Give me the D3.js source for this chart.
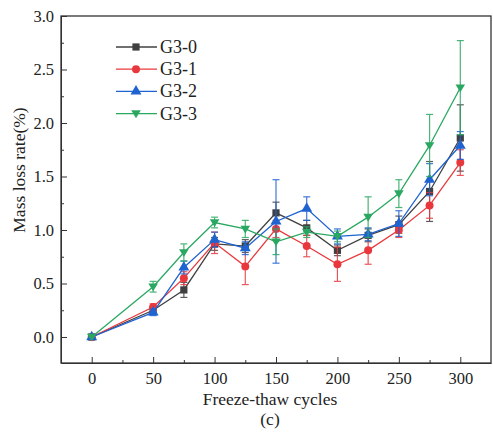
<!DOCTYPE html>
<html>
<head>
<meta charset="utf-8">
<script src="https://cdn.jsdelivr.net/npm/d3@7"></script>
<style>
    body { margin: 0; background: #fff; }
    text { font-family: "Liberation Serif", "Times New Roman", serif; fill: #222; }
</style>
</head>
<body>
<div id="chart"></div>
<script>
// Freeze-thaw cycles
const cycles = [0, 50, 75, 100, 125, 150, 175, 200, 225, 250, 275, 300];

// mass loss rate (%) per group
const g30 = [0, 0.25, 0.44, 0.87, 0.85, 1.16, 1.02, 0.81, 0.95, 1.05, 1.36, 1.86];
const g31 = [0, 0.28, 0.55, 0.88, 0.66, 1.01, 0.85, 0.68, 0.81, 1.00, 1.23, 1.63];
const g32 = [0, 0.23, 0.65, 0.91, 0.83, 1.08, 1.20, 0.94, 0.96, 1.06, 1.47, 1.79];
const g33 = [0, 0.47, 0.79, 1.07, 1.01, 0.89, 0.98, 0.94, 1.12, 1.34, 1.79, 2.33];

// error bars (+/-)
const e30 = [0, 0.03, 0.07, 0.06, 0.06, 0.10, 0.07, 0.05, 0.06, 0.08, 0.28, 0.31];
const e31 = [0, 0.03, 0.06, 0.10, 0.17, 0.08, 0.10, 0.16, 0.13, 0.07, 0.12, 0.12];
const e32 = [0, 0.03, 0.06, 0.07, 0.06, 0.39, 0.11, 0.07, 0.06, 0.12, 0.15, 0.13];
const e33 = [0, 0.05, 0.08, 0.05, 0.08, 0.12, 0.05, 0.05, 0.19, 0.13, 0.29, 0.44];

const seriesNames = ['G3-0', 'G3-1', 'G3-2', 'G3-3'];
const colors = ['#404040', '#e8383d', '#1f63d0', '#2aa862'];
const symbols = [d3.symbolSquare, d3.symbolCircle, d3.symbolTriangle, 'down'];

const xTicks = [0, 50, 100, 150, 200, 250, 300];
const yTicks = [0, 0.5, 1.0, 1.5, 2.0, 2.5, 3.0];

const width = 493, height = 435;
const margin = {top: 16, right: 2, bottom: 72, left: 61};

const svg = d3.select('#chart').append('svg')
    .attr('width', width)
    .attr('height', height);

const x = d3.scaleLinear().domain([-25, 325]).range([margin.left, width - margin.right]);
const y = d3.scaleLinear().domain([-0.243, 3.0]).range([height - margin.bottom, margin.top]);

const series = [g30, g31, g32, g33].map(function(vals, i) {
    const errs = [e30, e31, e32, e33][i];
    return {
        name: seriesNames[i],
        color: colors[i],
        symbol: symbols[i],
        values: cycles.map(function(c, j) { return {x: c, y: vals[j], e: errs[j]}; })
    };
});

// AXES (ticks pointing inward)
svg.append('g')
    .attr('transform', 'translate(0,' + (height - margin.bottom) + ')')
    .call(d3.axisBottom(x).tickValues(xTicks).tickSizeInner(-6).tickSizeOuter(0).tickPadding(9).tickFormat(d3.format('d')));
svg.append('g')
    .attr('transform', 'translate(0,' + (height - margin.bottom) + ')')
    .call(d3.axisBottom(x).tickValues(d3.range(25, 300, 50)).tickSizeInner(-3).tickSizeOuter(0).tickFormat(''))
    .select('.domain').remove();

svg.append('g')
    .attr('transform', 'translate(' + margin.left + ',0)')
    .call(d3.axisLeft(y).tickValues(yTicks).tickSizeInner(-6).tickSizeOuter(0).tickPadding(7).tickFormat(d3.format('.1f')));
svg.append('g')
    .attr('transform', 'translate(' + margin.left + ',0)')
    .call(d3.axisLeft(y).tickValues(d3.range(0.25, 3, 0.5)).tickSizeInner(-3).tickSizeOuter(0).tickFormat(''))
    .select('.domain').remove();

svg.selectAll('.tick text').style('font-size', '16.5px').style('font-family', '"Liberation Serif", serif').attr('fill', '#222');
svg.selectAll('.tick line').attr('stroke', '#333');

// frame
svg.append('rect')
    .attr('x', margin.left).attr('y', margin.top)
    .attr('width', width - margin.left - margin.right)
    .attr('height', height - margin.top - margin.bottom)
    .attr('fill', 'none').attr('stroke', '#333').attr('stroke-width', 1.3);
svg.selectAll('.domain').attr('stroke', '#333');

// LABELS
svg.append('text')
    .attr('x', 270).attr('y', 405)
    .attr('text-anchor', 'middle').style('font-size', '17.5px')
    .text('Freeze-thaw cycles');
svg.append('text')
    .attr('x', 270).attr('y', 425)
    .attr('text-anchor', 'middle').style('font-size', '17.5px')
    .text('(c)');
svg.append('text')
    .attr('transform', 'translate(25,' + 170 + ') rotate(-90)')
    .attr('text-anchor', 'middle').style('font-size', '17.5px')
    .text('Mass loss rate(%)');

function markerPath(s) {
    if (s === 'down') return 'M-4.8,-3.3L4.8,-3.3L0,4.6Z';
    if (s === d3.symbolSquare) return d3.symbol().type(s).size(52)();
    if (s === d3.symbolCircle) return d3.symbol().type(s).size(50)();
    return d3.symbol().type(s).size(52)();
}

const line = d3.line()
    .x(function(d) { return x(d.x); })
    .y(function(d) { return y(d.y); });

const plot = svg.append('g');

series.forEach(function(s) {
    const g = plot.append('g');
    g.append('path')
        .attr('d', line(s.values))
        .attr('fill', 'none')
        .attr('stroke', s.color)
        .attr('stroke-width', 1.3);

    const eb = g.selectAll('.err').data(s.values.filter(function(d) { return d.e > 0; }))
        .enter().append('g').attr('stroke', s.color).attr('stroke-width', 1.2).attr('opacity', 0.85);
    eb.append('line')
        .attr('x1', function(d) { return x(d.x); }).attr('x2', function(d) { return x(d.x); })
        .attr('y1', function(d) { return y(d.y - d.e); }).attr('y2', function(d) { return y(d.y + d.e); });
    eb.append('line')
        .attr('x1', function(d) { return x(d.x) - 3.5; }).attr('x2', function(d) { return x(d.x) + 3.5; })
        .attr('y1', function(d) { return y(d.y + d.e); }).attr('y2', function(d) { return y(d.y + d.e); });
    eb.append('line')
        .attr('x1', function(d) { return x(d.x) - 3.5; }).attr('x2', function(d) { return x(d.x) + 3.5; })
        .attr('y1', function(d) { return y(d.y - d.e); }).attr('y2', function(d) { return y(d.y - d.e); });

    g.selectAll('.pt').data(s.values).enter().append('path')
        .attr('d', markerPath(s.symbol))
        .attr('transform', function(d) { return 'translate(' + x(d.x) + ',' + y(d.y) + ')'; })
        .attr('fill', s.color);
});

// LEGEND
const legend = svg.append('g');
series.forEach(function(s, i) {
    const ly = 47 + i * 22.2;
    legend.append('line')
        .attr('x1', 116).attr('x2', 157).attr('y1', ly).attr('y2', ly)
        .attr('stroke', s.color).attr('stroke-width', 1.3);
    legend.append('path')
        .attr('d', markerPath(s.symbol))
        .attr('transform', 'translate(136,' + ly + ')')
        .attr('fill', s.color);
    legend.append('text')
        .attr('x', 160).attr('y', ly + 6)
        .style('font-size', '18px')
        .text(s.name);
});
</script>
</body>
</html>
